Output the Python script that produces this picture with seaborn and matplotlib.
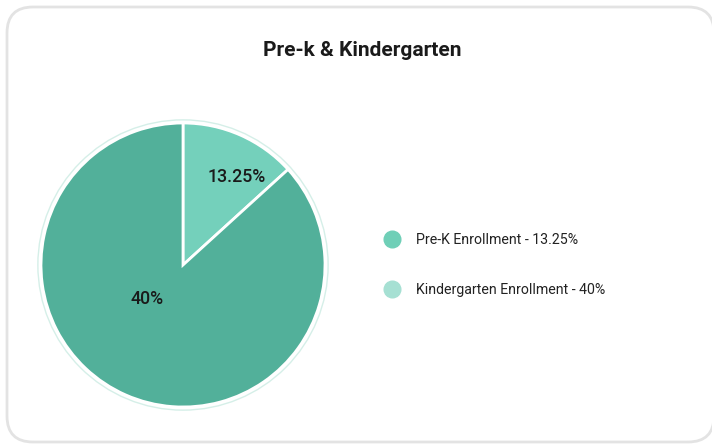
import matplotlib
matplotlib.use("Agg")
import matplotlib.pyplot as plt
from matplotlib.patches import FancyBboxPatch, Circle
from matplotlib.lines import Line2D
import seaborn as sns

title = "Pre-k & Kindergarten"
categories = ["Pre-K Enrollment", "Kindergarten Enrollment"]
shown_pct = [13.25, 40]
slice_sizes = [13.25, 86.75]
slice_colors = ["#74d0bb", "#52b09a"]
legend_colors = ["#6fcfb7", "#a6e0d3"]

sns.set_theme(style="white")
plt.rcParams["font.family"] = ["Roboto", "DejaVu Sans"]

W, H = 712, 445
fig = plt.figure(figsize=(W / 100, H / 100), dpi=100)
fig.patch.set_facecolor("white")

# background layer in pixel coordinates
bg = fig.add_axes([0, 0, 1, 1])
bg.set_xlim(0, W)
bg.set_ylim(H, 0)
bg.axis("off")
card = FancyBboxPatch((7, 7), 707, 435, boxstyle="round,pad=0,rounding_size=26",
                      facecolor="white", edgecolor="#e3e3e3", linewidth=2)
bg.add_patch(card)
bg.text(362, 51, title, ha="center", va="center", fontsize=15,
        fontweight="bold", color="#1a1a1a")

# pie
cx, cy, r = 183, 265, 142 * 1.03
ax = fig.add_axes([(cx - r) / W, (H - cy - r) / H, 2 * r / W, 2 * r / H])
wedges, _ = ax.pie(slice_sizes, colors=slice_colors, startangle=90, counterclock=False,
                   radius=1, wedgeprops=dict(edgecolor="white", linewidth=2))
ax.add_patch(Circle((0, 0), 1.022, facecolor="none", edgecolor="#d5efe8", linewidth=1))
ax.set_xlim(-1.03, 1.03)
ax.set_ylim(-1.03, 1.03)
ax.set_aspect("equal")
ax.axis("off")

label_pos = [(0.38, 0.62), (-0.25, -0.24)]
for pct, (lx, ly) in zip(shown_pct, label_pos):
    ax.text(lx, ly, f"{pct:g}%", ha="center", va="center", fontsize=12.8,
            fontweight="medium", color="#1a1a1a")

handles = [Line2D([], [], linestyle="none", marker="o", markersize=12,
                  markerfacecolor=c, markeredgecolor=c) for c in legend_colors]
labels = [f"{c} - {p:g}%" for c, p in zip(categories, shown_pct)]
fig.legend(handles, labels, loc="center left", bbox_to_anchor=(372 / W, 1 - 265 / H),
           frameon=False, fontsize=10.2, labelspacing=2.6, handletextpad=1.2,
           handlelength=1.0, labelcolor="#222222")

fig.savefig("out.png", dpi=100, facecolor="white")
